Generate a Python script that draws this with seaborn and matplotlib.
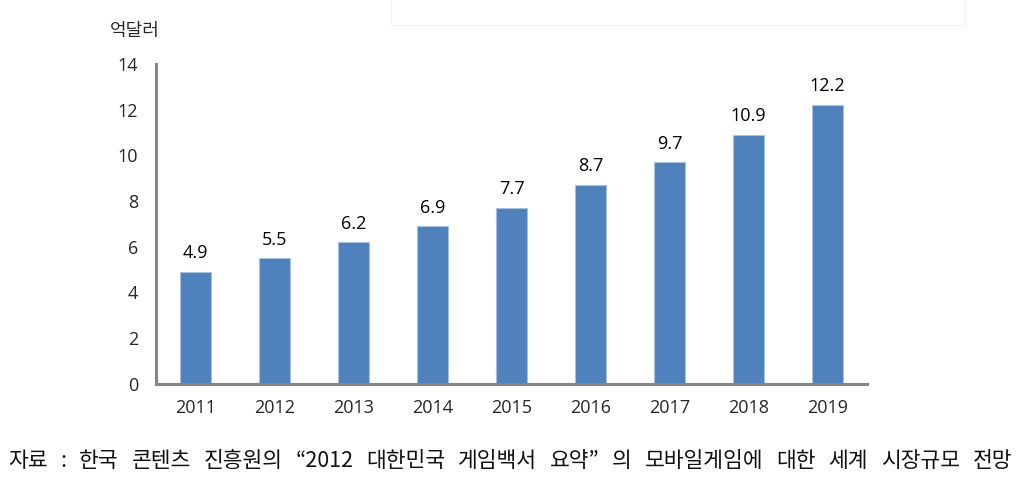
import pandas as pd
import numpy as np
import seaborn as sns
import matplotlib.pyplot as plt
from matplotlib.patches import Rectangle

# data
years = ['2011', '2012', '2013', '2014', '2015', '2016', '2017', '2018', '2019']
market = [4.9, 5.5, 6.2, 6.9, 7.7, 8.7, 9.7, 10.9, 12.2]
yticks = [0, 2, 4, 6, 8, 10, 12, 14]
unit_label = '억달러'
source_text = '자료 : 한국 콘텐츠 진흥원의 “2012 대한민국 게임백서 요약” 의 모바일게임에 대한 세계 시장규모 전망'

df = pd.DataFrame({'year': years, 'value': market})

sns.set_style('white')
plt.rcParams['font.family'] = ['Open Sans', 'Noto Sans CJK KR', 'DejaVu Sans']

W, H = 1020, 483
fig = plt.figure(figsize=(W / 100, H / 100), dpi=100)
ax = fig.add_axes([0.153, 0.205, 0.697, 0.663])

sns.barplot(data=df, x='year', y='value', color='#4F81BD', width=0.4,
            edgecolor='#A7C0DE', linewidth=0.8, saturation=1, ax=ax)

# labels above bars
for i, v in enumerate(market):
    ax.text(i, v + 0.42, f'{v:.1f}', ha='center', va='bottom', fontsize=13, color='#000000')

axis_col = '#868686'
ax.set_xlim(-0.5, len(years) - 0.5)
ax.set_ylim(0, 14)
ax.set_yticks(yticks)
ax.set_yticklabels([str(t) for t in yticks], fontsize=13)
ax.set_xticks(range(len(years)))
ax.set_xticklabels(years, fontsize=13)
ax.set_xticks(np.arange(-0.5, len(years)), minor=True)
ax.tick_params(axis='x', which='major', length=0, pad=11)
ax.tick_params(axis='x', which='minor', length=5, width=2.2, color=axis_col, direction='out')
ax.tick_params(axis='y', length=6, width=2.2, color=axis_col, direction='out', pad=7)
ax.set_xlabel('')
ax.set_ylabel('')

for s in ['top', 'right']:
    ax.spines[s].set_visible(False)
for s in ['left', 'bottom']:
    ax.spines[s].set_color(axis_col)
    ax.spines[s].set_linewidth(2.2)

# unit label
fig.text(0.108, 0.935, unit_label, fontsize=13, family=['Noto Sans CJK KR', 'DejaVu Sans'],
         ha='left', va='center')

# faint box at top
fig.patches.append(Rectangle((0.383, 0.948), 0.563, 0.06, transform=fig.transFigure,
                             fill=False, edgecolor='#F2F2F2', linewidth=1))

# source line: words spread evenly from x=8px to x=1012px
renderer = fig.canvas.get_renderer()
words = source_text.split(' ')
txts = [fig.text(0, 0.045, w, fontsize=15.5, family=['Noto Sans CJK KR', 'DejaVu Sans'],
                 ha='left', va='center', color='#111111') for w in words]
widths = [t.get_window_extent(renderer).width for t in txts]
gap = (1004 - sum(widths)) / (len(words) - 1)
x = 8
for t, wd in zip(txts, widths):
    t.set_x(x / W)
    x += wd + gap

fig.savefig('out.png', dpi=100)
